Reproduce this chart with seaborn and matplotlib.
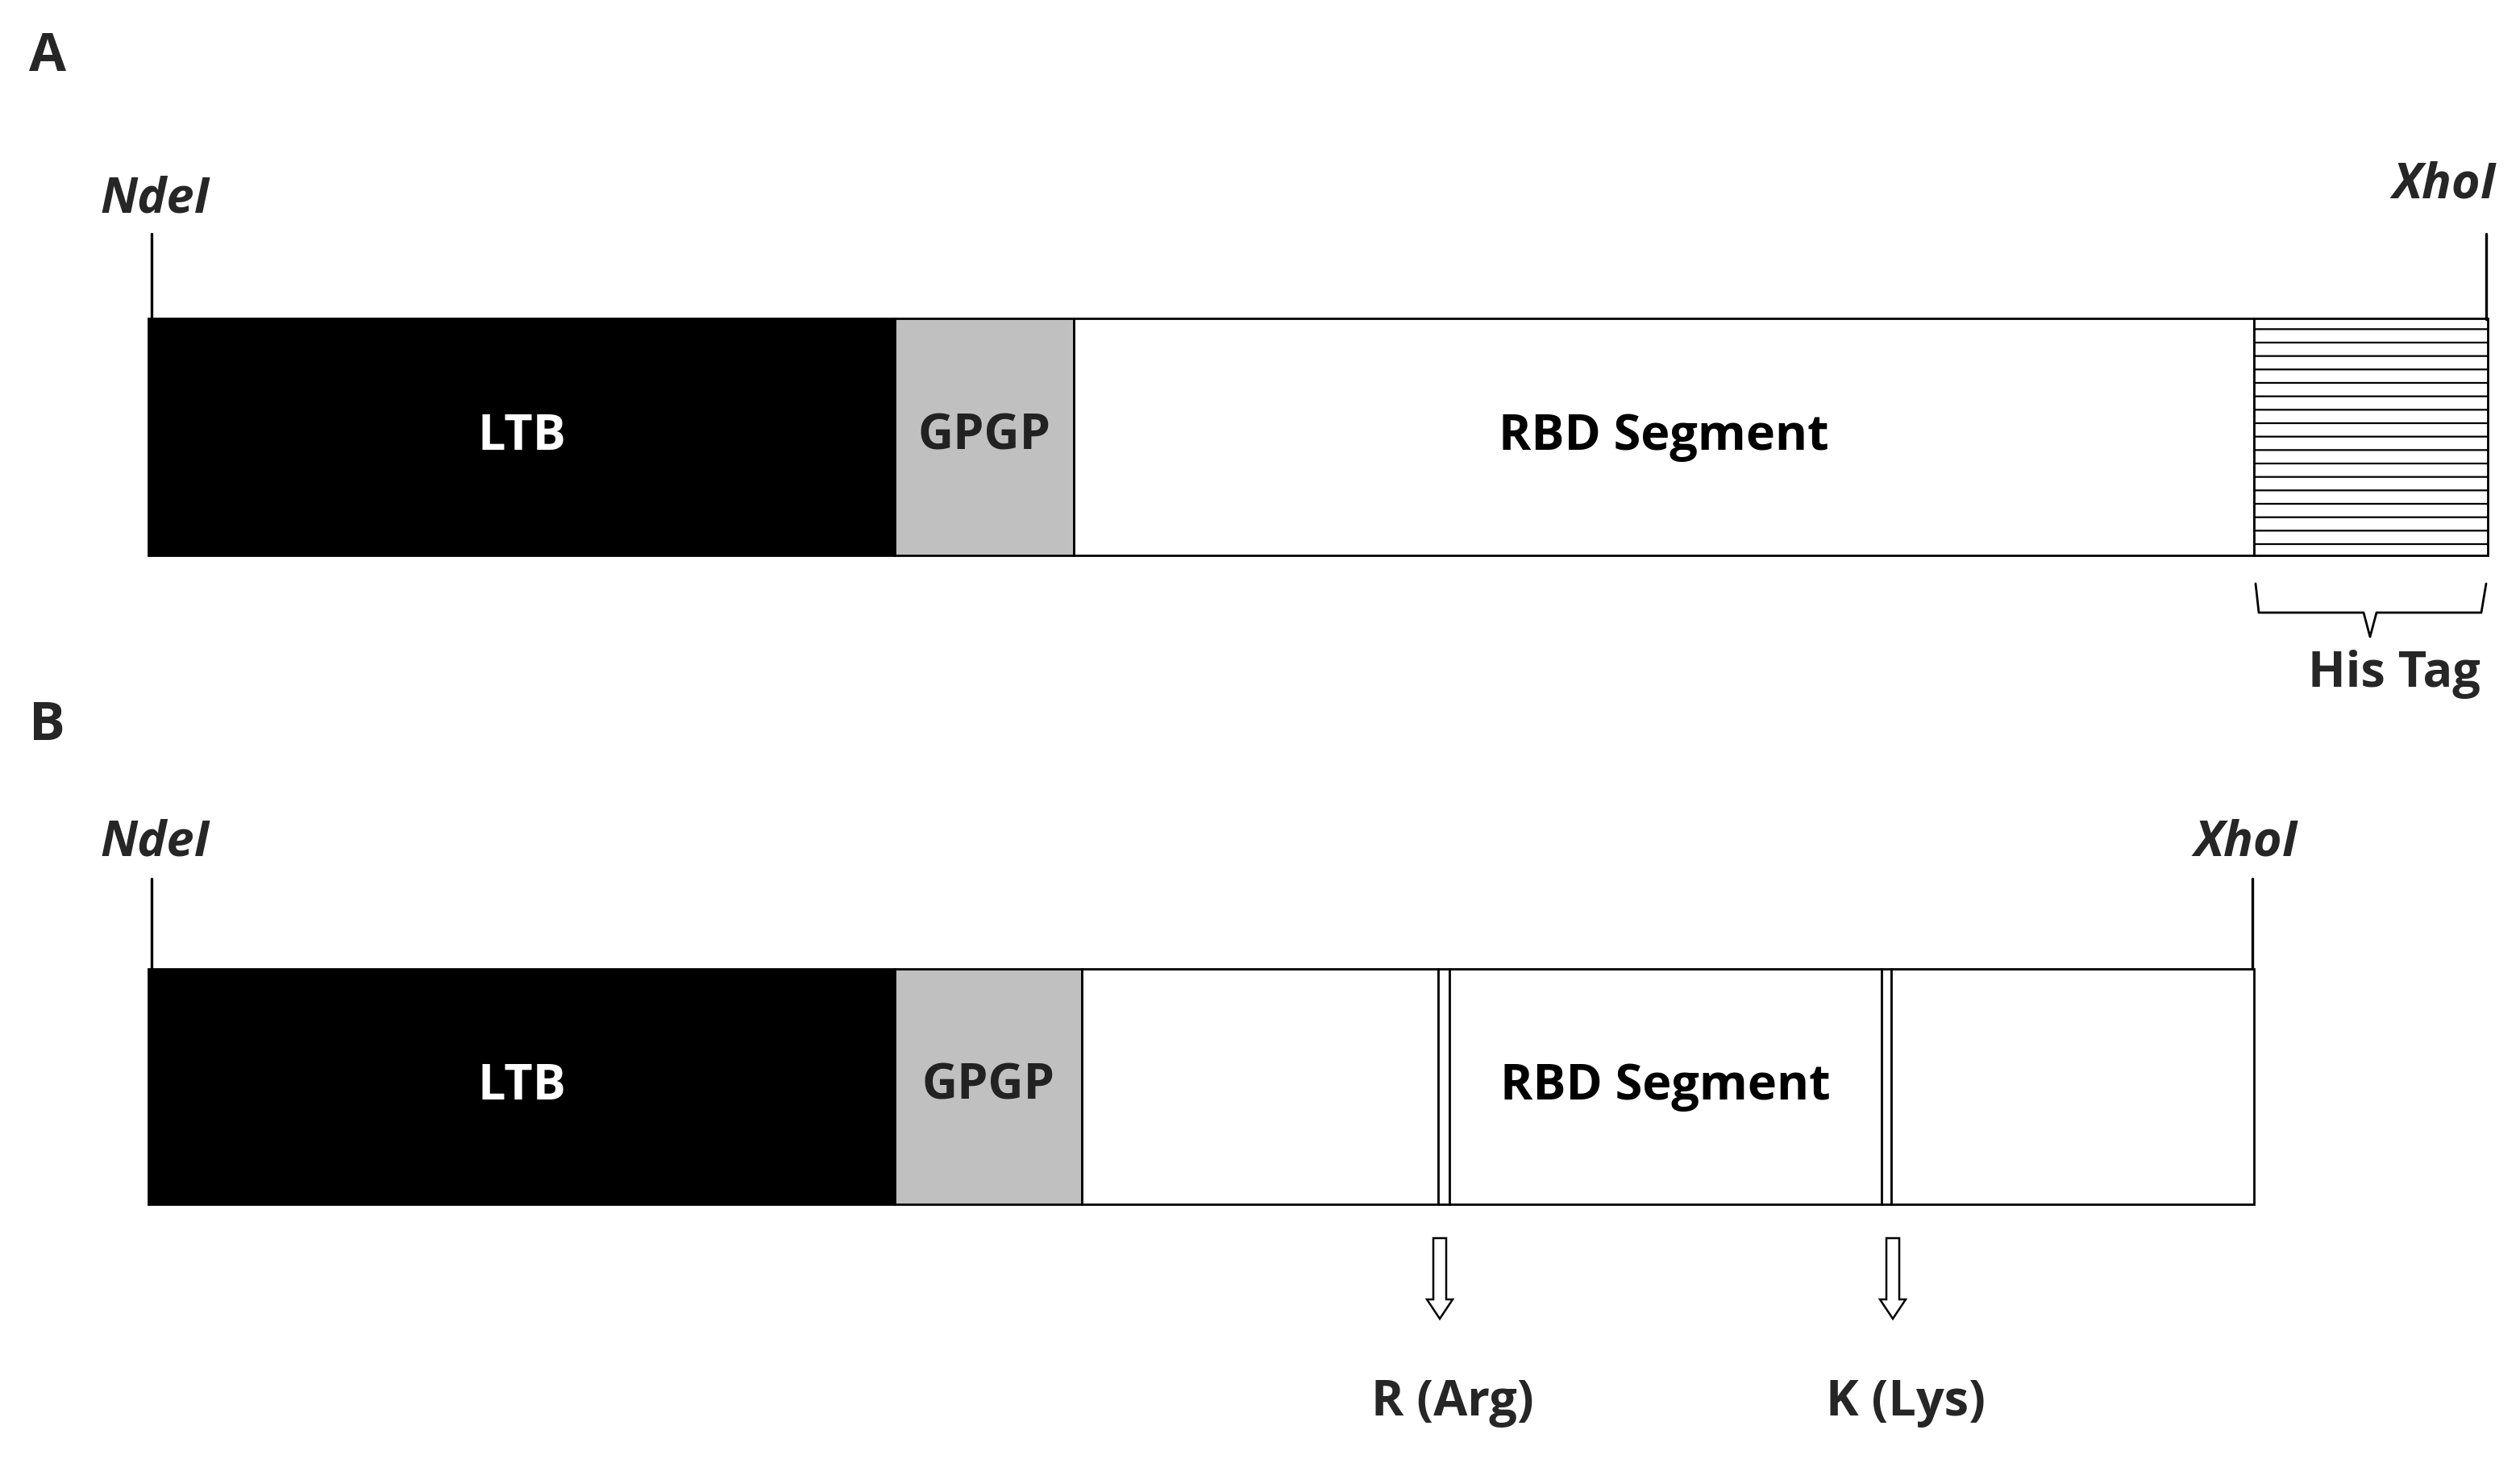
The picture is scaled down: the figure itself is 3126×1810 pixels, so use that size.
import matplotlib
matplotlib.use("Agg")
import matplotlib.pyplot as plt
import matplotlib.patches as mpatches
import seaborn as sns

sns.set_style("white")
plt.rcParams['font.family'] = ['Open Sans', 'DejaVu Sans']
plt.rcParams['hatch.linewidth'] = 0.8

# construct A
a_names = ["LTB", "GPGP", "RBD Segment", ""]
a_start = [92, 555, 666, 1398]
a_end = [555, 666, 1398, 1543]
a_colors = ["black", "#c0c0c0", "white", "white"]
a_text = ["white", "#222222", "black", "black"]

# construct B
b_names = ["LTB", "GPGP", "", "", "RBD Segment", "", ""]
b_start = [92, 555, 671, 892, 899, 1167, 1173]
b_end = [555, 671, 892, 899, 1167, 1173, 1398]
b_colors = ["black", "#c0c0c0", "white", "white", "white", "white", "white"]
b_text = ["white", "#222222", "black", "black", "black", "black", "black"]

mutations = ["R (Arg)", "K (Lys)"]
mut_x = [893, 1174]

fig = plt.figure(figsize=(15.63, 9.05), dpi=200)
ax = fig.add_axes([0, 0, 1, 1])
ax.set_xlim(0, 1563)
ax.set_ylim(905, 0)
ax.axis("off")

fs = 22


def construct(names, start, end, colors, tcolors, yc, h):
    widths = [e - s for s, e in zip(start, end)]
    bars = ax.barh([yc] * len(start), widths, left=start, height=h,
                   color=colors, edgecolor="black", linewidth=1.0)
    for n, s, e, tc in zip(names, start, end, tcolors):
        if n:
            ax.text((s + e) / 2, yc, n, ha="center", va="center",
                    fontsize=fs, fontweight="bold", color=tc)
    return bars


bars_a = construct(a_names, a_start, a_end, a_colors, a_text, 271, 147)
bars_a[3].set_hatch("--")
construct(b_names, b_start, b_end, b_colors, b_text, 674, 146)

# restriction sites
ax.plot([94, 94], [145, 198], color="black", lw=1.2)
ax.plot([1542, 1542], [145, 198], color="black", lw=1.2)
ax.plot([94, 94], [545, 601], color="black", lw=1.2)
ax.plot([1397, 1397], [545, 601], color="black", lw=1.2)
kw = dict(fontsize=fs, fontweight="bold", style="italic", ha="center", va="center")
ax.text(96, 124, "NdeI", **kw)
ax.text(1516, 115, "XhoI", **kw)
ax.text(96, 523, "NdeI", **kw)
ax.text(1393, 523, "XhoI", **kw)

ax.text(18, 35, "A", fontsize=fs + 2, fontweight="bold", va="center")
ax.text(18, 450, "B", fontsize=fs + 2, fontweight="bold", va="center")

# his tag brace
ax.plot([1399, 1401, 1466, 1470, 1474, 1539, 1542],
        [362, 380, 380, 395, 380, 380, 362], color="black", lw=1.0)
ax.text(1485, 418, "His Tag", fontsize=fs, fontweight="bold", ha="center", va="center")

for lab, x in zip(mutations, mut_x):
    ax.add_patch(mpatches.FancyArrow(x, 768, 0, 50, width=8, head_width=16,
                                     head_length=12, length_includes_head=True,
                                     fc="white", ec="black", lw=0.9))
    ax.text(x + 8, 870, lab, fontsize=fs, fontweight="bold", ha="center", va="center")

fig.savefig("out.png", dpi=200, facecolor="white")
